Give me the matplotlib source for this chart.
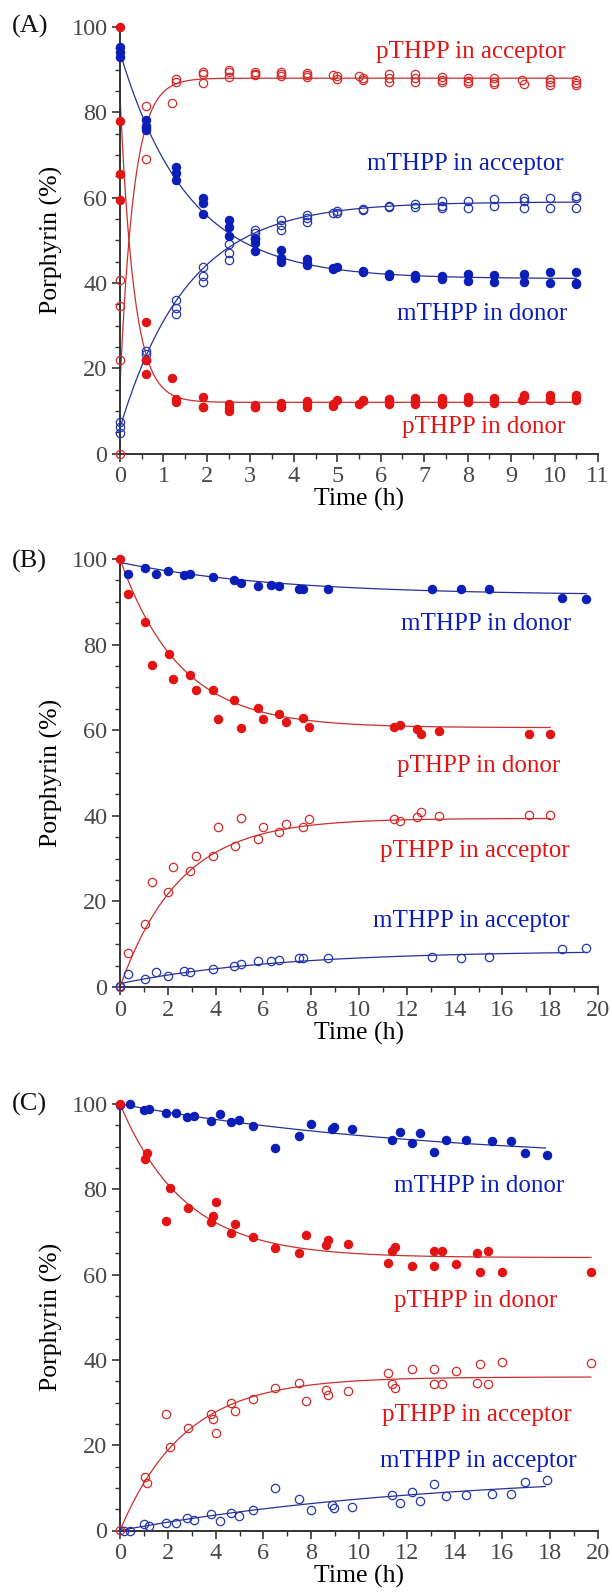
import numpy as np
import matplotlib
matplotlib.use("Agg")
import matplotlib.pyplot as plt
from matplotlib.ticker import MultipleLocator

plt.rcParams['font.family'] = ['Liberation Serif', 'DejaVu Serif']

# ---------------- Panel A data ----------------
A_pd_t = [0, 0, 0, 0, 0.6, 0.6, 0.6, 1.2, 1.3, 1.3, 1.9, 1.9, 1.9, 2.5, 2.5, 2.5, 3.1, 3.1, 3.1,
          3.7, 3.7, 3.7, 4.3, 4.3, 4.3, 4.9, 4.9, 5.0, 5.5, 5.6, 5.6, 6.2, 6.2, 6.2, 6.8, 6.8, 6.8,
          7.4, 7.4, 7.4, 8.0, 8.0, 8.0, 8.6, 8.6, 8.6, 9.25, 9.3, 9.3, 9.9, 9.9, 9.9, 10.5, 10.5, 10.5]
A_pd_v = [100, 78, 65.5, 59.5, 30.9, 21.9, 18.6, 17.8, 12.7, 12.1, 13.2, 11.0, 10.8, 11.5, 10.6, 10.0,
          11.4, 11.0, 10.8, 11.8, 11.2, 10.8, 12.2, 11.6, 11.0, 11.5, 11.2, 12.5, 11.6, 12.6, 12.2,
          12.8, 12.2, 11.5, 12.9, 12.3, 11.6, 13.0, 12.3, 11.7, 13.2, 12.6, 12.0, 13.1, 12.5, 11.9,
          12.5, 13.6, 13.2, 13.6, 13.0, 12.5, 13.7, 13.2, 12.6]
A_pa_t = [0, 0, 0, 0, 0.6, 0.6, 0.6, 1.2, 1.3, 1.3, 1.9, 1.9, 1.9, 2.5, 2.5, 2.5, 3.1, 3.1, 3.1,
          3.7, 3.7, 3.7, 4.3, 4.3, 4.3, 4.9, 5.0, 5.0, 5.5, 5.6, 5.6, 6.2, 6.2, 6.2, 6.8, 6.8, 6.8,
          7.4, 7.4, 7.4, 8.0, 8.0, 8.0, 8.6, 8.6, 8.6, 9.25, 9.3, 9.9, 9.9, 9.9, 10.5, 10.5, 10.5]
A_pa_v = [40.6, 34.5, 22.0, 0, 81.4, 76.4, 69.1, 82.2, 87.7, 87.1, 89.5, 88.9, 86.9, 90.0, 89.5, 88.3,
          89.5, 89.0, 88.7, 89.5, 89.0, 88.5, 89.3, 88.8, 88.3, 88.8, 88.4, 87.7, 88.6, 88.0, 87.6,
          88.9, 88.0, 87.2, 89.0, 88.0, 87.2, 88.3, 87.6, 87.0, 88.0, 87.3, 86.8, 88.0, 87.2, 86.6,
          87.5, 86.6, 87.8, 87.0, 86.4, 87.5, 86.9, 86.4]
A_md_t = [0, 0, 0, 0.6, 0.6, 0.6, 1.3, 1.3, 1.3, 1.9, 1.9, 1.9, 2.5, 2.5, 2.5, 3.1, 3.1, 3.1,
          3.7, 3.7, 3.7, 4.3, 4.3, 4.3, 4.9, 4.9, 5.0, 5.6, 5.6, 6.2, 6.2, 6.8, 6.8, 7.4, 7.4,
          8.0, 8.0, 8.6, 8.6, 9.3, 9.3, 9.9, 9.9, 10.5, 10.5, 10.5]
A_md_v = [95.3, 94.1, 93.0, 78.3, 76.7, 75.9, 67.2, 65.8, 64.1, 59.8, 58.8, 56.1, 54.7, 53.1, 50.9,
          50.4, 49.4, 47.5, 47.7, 45.9, 44.9, 45.5, 44.7, 44.1, 43.5, 43.2, 43.8, 42.8, 42.5,
          42.2, 41.7, 41.9, 41.2, 41.6, 40.8, 42.2, 40.5, 41.8, 40.2, 42.2, 40.2, 42.5, 40.0,
          42.6, 40.0, 39.7]
A_ma_t = [0, 0, 0, 0.6, 0.6, 0.6, 1.3, 1.3, 1.3, 1.9, 1.9, 1.9, 2.5, 2.5, 2.5, 3.1, 3.1, 3.1,
          3.7, 3.7, 3.7, 4.3, 4.3, 4.3, 4.9, 5.0, 5.0, 5.6, 5.6, 6.2, 6.2, 6.8, 6.8, 7.4, 7.4, 7.4,
          8.0, 8.0, 8.6, 8.6, 9.3, 9.3, 9.3, 9.9, 9.9, 10.5, 10.5, 10.5]
A_ma_v = [7.4, 6.1, 4.8, 24.1, 23.4, 22.0, 36.1, 34.2, 32.8, 43.8, 41.6, 40.2, 49.1, 47.0, 45.3,
          52.5, 51.6, 50.6, 54.8, 53.6, 52.3, 55.9, 55.2, 54.3, 56.5, 56.9, 56.3, 57.4, 57.0,
          58.0, 57.8, 58.5, 57.9, 59.2, 58.0, 57.5, 59.2, 57.5, 59.6, 58.0, 59.8, 59.3, 57.5,
          59.8, 57.5, 60.3, 59.9, 57.5]

# ---------------- Panel B data ----------------
B_md_t = [0.34, 1.03, 1.51, 2.0, 2.68, 2.93, 3.89, 4.79, 5.06, 5.79, 6.3, 6.66, 7.47, 7.65, 8.72,
          13.05, 14.25, 15.45, 18.5, 19.5]
B_md_v = [96.6, 98.0, 96.5, 97.3, 96.2, 96.5, 95.7, 95.1, 94.4, 93.7, 93.9, 93.7, 93.1, 93.1, 93.1,
          92.9, 93.1, 92.9, 91.0, 90.6]
B_ma_t = [0.0, 0.34, 1.03, 1.51, 2.0, 2.68, 2.93, 3.89, 4.79, 5.06, 5.79, 6.3, 6.66, 7.47, 7.65, 8.72,
          13.05, 14.25, 15.45, 18.5, 19.5]
B_ma_v = [0.2, 3.1, 1.8, 3.4, 2.6, 3.8, 3.4, 4.1, 4.9, 5.3, 6.1, 6.1, 6.3, 6.7, 6.7, 6.7,
          6.9, 6.7, 6.9, 8.9, 9.2]
B_pd_t = [0, 0.34, 1.03, 1.35, 2.04, 2.2, 2.92, 3.2, 3.89, 4.1, 4.79, 5.06, 5.79, 5.98, 6.66, 6.96,
          7.65, 7.9, 11.46, 11.7, 12.44, 12.6, 13.36, 17.1, 18.0]
B_pd_v = [100, 91.9, 85.3, 75.3, 77.9, 72.0, 72.8, 69.4, 69.4, 62.6, 67.1, 60.5, 65.3, 62.6, 63.8,
          62.0, 62.8, 60.8, 60.8, 61.3, 60.3, 59.1, 59.9, 59.1, 59.1]
B_pa_t = [0, 0.34, 1.03, 1.35, 2.0, 2.2, 2.92, 3.2, 3.89, 4.1, 4.81, 5.06, 5.79, 5.98, 6.66, 6.96,
          7.65, 7.9, 11.46, 11.7, 12.44, 12.6, 13.36, 17.1, 18.0]
B_pa_v = [0, 8.0, 14.7, 24.6, 22.1, 28.0, 27.2, 30.5, 30.5, 37.4, 32.9, 39.5, 34.6, 37.4, 36.2,
          38.0, 37.3, 39.2, 39.2, 38.7, 39.7, 40.8, 39.9, 40.2, 40.1]

# ---------------- Panel C data ----------------
C_md_t = [0, 0.43, 1.0, 1.21, 1.93, 2.34, 2.82, 3.1, 3.82, 4.2, 4.65, 4.99, 5.58, 6.48, 7.5, 8.0,
          8.86, 8.95, 9.72, 11.37, 11.72, 12.23, 12.55, 13.14, 13.64, 14.46, 15.55, 16.36, 16.96, 17.85]
C_md_v = [99.8, 100.0, 98.6, 98.8, 98.0, 98.0, 97.0, 97.3, 96.0, 97.7, 95.7, 96.2, 94.9, 89.8, 92.4,
          95.2, 94.1, 94.5, 94.1, 91.5, 93.5, 90.8, 93.3, 88.8, 91.5, 91.5, 91.3, 91.3, 88.6, 88.1]
C_ma_t = [0.18, 0.43, 1.0, 1.21, 1.93, 2.34, 2.82, 3.1, 3.82, 4.2, 4.65, 4.99, 5.58, 6.48, 7.5, 8.0,
          8.86, 8.95, 9.72, 11.37, 11.72, 12.23, 12.55, 13.14, 13.64, 14.46, 15.55, 16.36, 16.96, 17.85]
C_ma_v = [0.0, 0.0, 1.6, 1.0, 1.8, 1.8, 2.9, 2.5, 3.9, 2.2, 4.1, 3.5, 4.9, 9.9, 7.4, 4.7,
          5.9, 5.2, 5.6, 8.3, 6.5, 9.1, 6.8, 11.0, 8.2, 8.3, 8.6, 8.6, 11.4, 11.9]
C_pd_t = [0, 1.03, 1.11, 1.93, 2.1, 2.83, 3.8, 3.89, 4.0, 4.65, 4.81, 5.58, 6.48, 7.5, 7.8, 8.62,
          8.72, 9.55, 11.23, 11.37, 11.5, 12.23, 13.14, 13.14, 13.49, 14.05, 14.95, 15.06, 15.38,
          15.97, 19.72]
C_pd_v = [100, 87.2, 88.6, 72.6, 80.4, 75.7, 72.4, 73.7, 77.1, 69.8, 71.8, 68.9, 66.3, 65.0, 69.4,
          66.9, 68.1, 67.1, 62.8, 65.6, 66.4, 62.0, 62.0, 65.6, 65.6, 62.4, 65.1, 60.6, 65.6,
          60.5, 60.6]
C_pa_t = [0, 1.03, 1.11, 1.93, 2.1, 2.83, 3.8, 3.89, 4.0, 4.65, 4.81, 5.58, 6.48, 7.5, 7.8, 8.62,
          8.72, 9.55, 11.23, 11.37, 11.5, 12.23, 13.14, 13.14, 13.49, 14.05, 14.95, 15.06, 15.38,
          15.97, 19.72]
C_pa_v = [0.2, 12.5, 11.1, 27.2, 19.6, 24.0, 27.4, 26.1, 22.8, 30.0, 28.0, 30.9, 33.5, 34.7, 30.4,
          32.9, 31.7, 32.7, 37.0, 34.3, 33.4, 37.8, 37.8, 34.3, 34.3, 37.3, 34.7, 39.1, 34.3,
          39.4, 39.2]

# fitted first-order curves: [start value, plateau, rate (1/h), end time (h)]
A_fit_pd = [84, 12, 3.1, 10.5]
A_fit_pa = [16, 88, 3.1, 10.5]
A_fit_md = [94, 41, 0.64, 10.5]
A_fit_ma = [6, 59, 0.64, 10.5]
B_fit_md = [99.2, 91.5, 0.15, 19.5]
B_fit_ma = [0.8, 8.5, 0.15, 19.5]
B_fit_pd = [100, 60.6, 0.40, 18.0]
B_fit_pa = [0, 39.4, 0.40, 18.0]
C_fit_md = [100, 86, 0.075, 17.8]
C_fit_ma = [0, 14, 0.075, 17.8]
C_fit_pd = [100, 64, 0.37, 19.7]
C_fit_pa = [0, 36, 0.37, 19.7]

series_names = ["pTHPP in acceptor", "mTHPP in acceptor", "mTHPP in donor", "pTHPP in donor"]

RED = '#e31414'
BLUE = '#0b1eb8'
RED_L = '#c8302c'
BLUE_L = '#26309a'

fig = plt.figure(figsize=(6.12, 15.93), dpi=100)
L, W = 120 / 612, 478 / 612
H = 1593.0


def make_ax(top_px, bot_px):
    return fig.add_axes([L, 1 - bot_px / H, W, (bot_px - top_px) / H])


def style(ax, xmax, xmaj, xmin):
    ax.set_xlim(0, xmax)
    ax.set_ylim(0, 100)
    for s in ['top', 'right']:
        ax.spines[s].set_visible(False)
    for s in ['left', 'bottom']:
        ax.spines[s].set_color('#333333')
        ax.spines[s].set_linewidth(1.4)
    ax.xaxis.set_major_locator(MultipleLocator(xmaj))
    ax.xaxis.set_minor_locator(MultipleLocator(xmin))
    ax.yaxis.set_major_locator(MultipleLocator(20))
    ax.yaxis.set_minor_locator(MultipleLocator(5))
    ax.tick_params(which='major', direction='out', length=6, width=1.2, color='#333333',
                   labelsize=17.5, labelcolor='#484848', pad=3)
    ax.tick_params(which='minor', direction='out', length=3.5, width=1.0, color='#333333')
    ax.set_xlabel('Time (h)', fontsize=18.5, labelpad=1)
    ax.set_ylabel('Porphyrin (%)', fontsize=18.5, labelpad=6)


def curve(ax, p, color):
    t = np.linspace(0, p[3], 300)
    y = p[1] + (p[0] - p[1]) * np.exp(-p[2] * t)
    ax.plot(t, y, color=color, lw=0.9, zorder=2)


def pts(ax, t, v, color, filled):
    if filled:
        ax.plot(t, v, 'o', ms=6.0, mfc=color, mec=color, mew=0.8, ls='none', zorder=3, clip_on=False)
    else:
        ax.plot(t, v, 'o', ms=6.0, mfc='none', mec=color, mew=0.9, ls='none', zorder=3, clip_on=False)


def label(ax, x, y, s, color):
    ax.text(x, y, s, color=color, fontsize=18, ha='right', va='center')


# Panel A
axA = make_ax(27, 453.5)
style(axA, 11, 1, 0.5)
curve(axA, A_fit_pd, RED_L)
curve(axA, A_fit_pa, RED_L)
curve(axA, A_fit_md, BLUE_L)
curve(axA, A_fit_ma, BLUE_L)
pts(axA, A_pa_t, A_pa_v, '#d42a2a', False)
pts(axA, A_ma_t, A_ma_v, '#2436b0', False)
pts(axA, A_md_t, A_md_v, BLUE, True)
pts(axA, A_pd_t, A_pd_v, RED, True)
label(axA, 10.25, 94.2, series_names[0], RED)
label(axA, 10.22, 67.8, series_names[1], BLUE)
label(axA, 10.3, 32.8, series_names[2], BLUE)
label(axA, 10.24, 6.2, series_names[3], RED)

# Panel B
axB = make_ax(559, 987)
style(axB, 20, 2, 1)
curve(axB, B_fit_pd, RED_L)
curve(axB, B_fit_pa, RED_L)
curve(axB, B_fit_md, BLUE_L)
curve(axB, B_fit_ma, BLUE_L)
pts(axB, B_pa_t, B_pa_v, '#d42a2a', False)
pts(axB, B_ma_t, B_ma_v, '#2436b0', False)
pts(axB, B_md_t, B_md_v, BLUE, True)
pts(axB, B_pd_t, B_pd_v, RED, True)
label(axB, 18.9, 84.8, series_names[2], BLUE)
label(axB, 18.4, 51.6, series_names[3], RED)
label(axB, 18.8, 31.8, series_names[0], RED)
label(axB, 18.8, 15.5, series_names[1], BLUE)

# Panel C
axC = make_ax(1104, 1530.5)
style(axC, 20, 2, 1)
curve(axC, C_fit_pd, RED_L)
curve(axC, C_fit_pa, RED_L)
curve(axC, C_fit_md, BLUE_L)
curve(axC, C_fit_ma, BLUE_L)
pts(axC, C_pa_t, C_pa_v, '#d42a2a', False)
pts(axC, C_ma_t, C_ma_v, '#2436b0', False)
pts(axC, C_md_t, C_md_v, BLUE, True)
pts(axC, C_pd_t, C_pd_v, RED, True)
label(axC, 18.6, 80.8, series_names[2], BLUE)
label(axC, 18.3, 53.8, series_names[3], RED)
label(axC, 18.9, 27.0, series_names[0], RED)
label(axC, 19.1, 16.4, series_names[1], BLUE)

for lab, ypx in [('(A)', 26), ('(B)', 561), ('(C)', 1104)]:
    fig.text(12 / 612, 1 - ypx / H, lab, fontsize=19, ha='left', va='center', color='#111111')

fig.savefig('out.png', dpi=100)
